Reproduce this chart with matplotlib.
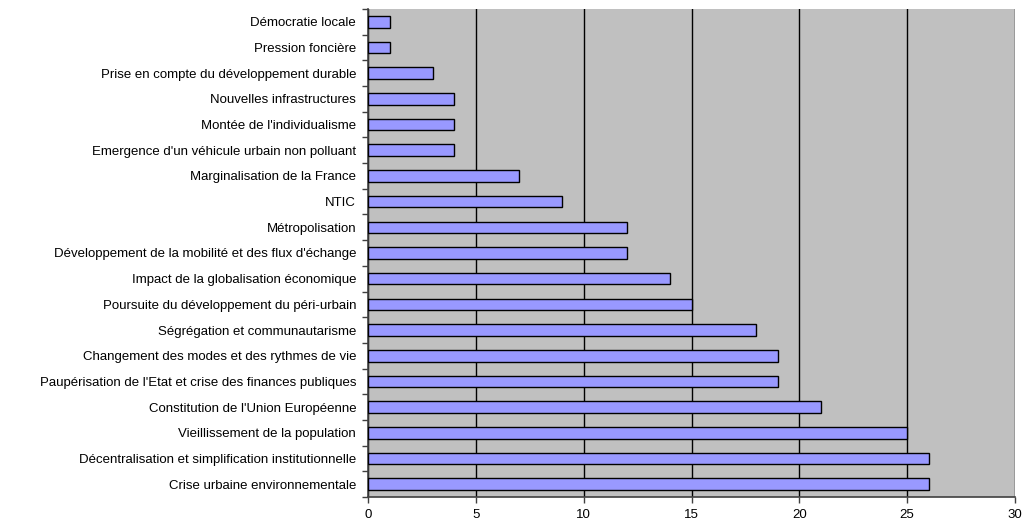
import matplotlib
matplotlib.use("Agg")
import matplotlib.pyplot as plt
import numpy as np

categories = [
    "Crise urbaine environnementale",
    "Décentralisation et simplification institutionnelle",
    "Vieillissement de la population",
    "Constitution de l'Union Européenne",
    "Paupérisation de l'Etat et crise des finances publiques",
    "Changement des modes et des rythmes de vie",
    "Ségrégation et communautarisme",
    "Poursuite du développement du péri-urbain",
    "Impact de la globalisation économique",
    "Développement de la mobilité et des flux d'échange",
    "Métropolisation",
    "NTIC",
    "Marginalisation de la France",
    "Emergence d'un véhicule urbain non polluant",
    "Montée de l'individualisme",
    "Nouvelles infrastructures",
    "Prise en compte du développement durable",
    "Pression foncière",
    "Démocratie locale",
]
values = [26, 26, 25, 21, 19, 19, 18, 15, 14, 12, 12, 9, 7, 4, 4, 4, 3, 1, 1]
x_ticks = [0, 5, 10, 15, 20, 25, 30]

plt.rcParams["font.family"] = ["Liberation Sans", "DejaVu Sans"]

fig = plt.figure(figsize=(10.25, 5.23), dpi=100)
ax = fig.add_axes([368 / 1025, 1 - 497 / 523, (1015 - 368) / 1025, (497 - 9) / 523])
ax.set_facecolor("#C0C0C0")

y = np.arange(len(categories))
ax.barh(y, values, height=0.45, color="#9999FF", edgecolor="black", linewidth=1.0, zorder=3)

ax.set_xlim(0, 30)
ax.set_ylim(-0.5, len(categories) - 0.5)
ax.set_xticks(x_ticks)
ax.set_xticklabels([str(t) for t in x_ticks], fontsize=9.5)
ax.set_yticks(y)
ax.set_yticklabels(categories, fontsize=9.5)
ax.tick_params(axis="y", which="major", length=0, pad=8.5)
ax.set_yticks(np.arange(-0.5, len(categories), 1.0), minor=True)
ax.tick_params(axis="y", which="minor", length=4, width=1, color="#404040", direction="out")
ax.tick_params(axis="x", which="major", length=4, width=1, color="#404040", direction="out", pad=5)

ax.grid(axis="x", color="black", linewidth=1.0, zorder=1)
ax.set_axisbelow(True)

for side in ["top", "right"]:
    ax.spines[side].set_visible(False)
for side in ["left", "bottom"]:
    ax.spines[side].set_color("#404040")
    ax.spines[side].set_linewidth(1.2)

fig.savefig("out.png", dpi=100)
